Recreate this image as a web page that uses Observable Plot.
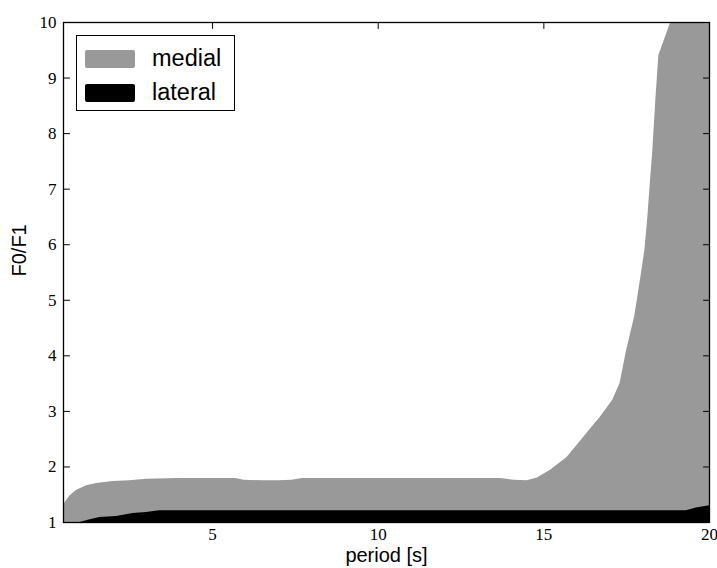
<!DOCTYPE html>
<html><head><meta charset="utf-8">
<script src="https://cdn.jsdelivr.net/npm/d3@7"></script>
<script src="https://cdn.jsdelivr.net/npm/@observablehq/plot@0.6"></script>
<style>
body{margin:0;background:#fff}
#wrap{position:relative;width:717px;height:568px}
.legend{position:absolute;left:76px;top:35px;width:157px;height:74px;border:1.3px solid #000;background:#fff;font-family:"Liberation Sans",Arial,sans-serif;font-size:23.5px}
.legend .row{position:absolute;left:8px;display:flex;align-items:center}
.legend .sw{width:50px;height:18px;border-radius:2px;margin-right:17px}
</style>
</head><body><div id="wrap"></div>
<script>
const medialX = [0.5,0.7,0.9,1.2,1.5,2.0,2.5,3.0,4.0,5.0,5.7,5.95,6.5,7.0,7.4,7.7,9,11,13,13.7,14.1,14.5,14.8,15.2,15.7,16.2,16.5,16.7,17.08,17.3,17.5,17.74,17.9,18.05,18.14,18.2,18.29,18.38,18.47,18.83,19.2,20];
const medialY = [1.32,1.48,1.58,1.66,1.70,1.74,1.75,1.78,1.79,1.79,1.79,1.76,1.75,1.75,1.76,1.79,1.79,1.79,1.79,1.79,1.76,1.75,1.80,1.94,2.17,2.53,2.75,2.89,3.2,3.5,4.1,4.7,5.3,5.9,6.5,7.0,7.7,8.6,9.4,10.0,10.6,11.5];
const lateralX = [0.5,1.0,1.3,1.6,2.1,2.6,3.0,3.4,19.3,19.6,20];
const lateralY = [1.0,1.0,1.05,1.09,1.11,1.16,1.18,1.21,1.21,1.26,1.30];
const xTicks = [5,10,15,20];
const yTicks = [1,2,3,4,5,6,7,8,9,10];
const xDomain = [0.5, 20];
const yDomain = [1, 10];
const seriesNames = ["medial","lateral"];
const seriesColors = ["#999999","#000000"];

const medial = medialX.map((x,i)=>({x, y: medialY[i]}));
const lateral = lateralX.map((x,i)=>({x, y: lateralY[i]}));
const sans = "Liberation Sans, Arial, sans-serif";
const serif = "Liberation Serif, Times New Roman, serif";
const line = {draw(ctx, l) { ctx.moveTo(0, 0); ctx.lineTo(0, -l); }};
const tickOpts = {length: 6, anchor: "start", shape: line, stroke: "black", strokeWidth: 1};

const chart = Plot.plot({
  width: 717, height: 568,
  marginLeft: 63, marginRight: 8, marginTop: 22, marginBottom: 46,
  x: {domain: xDomain},
  y: {domain: yDomain},
  style: {fontFamily: serif, fontSize: "17px", background: "white", color: "black"},
  marks: [
    Plot.areaY(medial, {x: "x", y1: yDomain[0], y2: "y", fill: seriesColors[0], clip: true}),
    Plot.areaY(lateral, {x: "x", y1: yDomain[0], y2: "y", fill: seriesColors[1], clip: true}),
    Plot.axisX({ticks: xTicks, tickSize: 0, tickPadding: 5, label: null, fontFamily: serif, fontSize: 17}),
    Plot.axisY({ticks: yTicks, tickSize: 0, tickPadding: 7, label: null, fontFamily: serif, fontSize: 17}),
    Plot.vector(xTicks, {x: d => d, y: yDomain[0], rotate: 0, ...tickOpts}),
    Plot.vector(xTicks, {x: d => d, y: yDomain[1], rotate: 180, ...tickOpts}),
    Plot.vector(yTicks, {x: xDomain[0], y: d => d, rotate: 90, ...tickOpts}),
    Plot.vector(yTicks, {x: xDomain[1], y: d => d, rotate: -90, ...tickOpts}),
    Plot.frame({stroke: "black", strokeWidth: 1.3}),
    Plot.text(["period [s]"], {frameAnchor: "bottom", dy: 39, fontFamily: sans, fontSize: 20, fill: "black"}),
    Plot.text(["F0/F1"], {frameAnchor: "left", dx: -44, dy: 4, rotate: -90, fontFamily: sans, fontSize: 20, fill: "black"})
  ]
});
const wrap = document.getElementById("wrap");
wrap.appendChild(chart);
const leg = document.createElement("div");
leg.className = "legend";
seriesNames.forEach((n,i)=>{
  const r = document.createElement("div");
  r.className = "row";
  r.style.top = (i === 0 ? 9 : 43) + "px";
  r.innerHTML = `<div class="sw" style="background:${seriesColors[i]}"></div><span>${n}</span>`;
  leg.appendChild(r);
});
wrap.appendChild(leg);
</script>
</body></html>
